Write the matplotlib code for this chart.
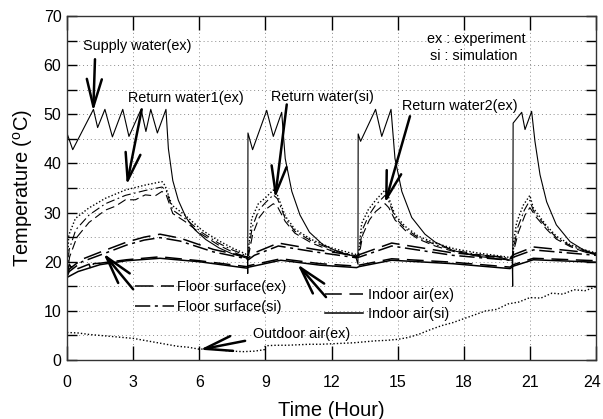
import matplotlib
matplotlib.use("Agg")
import matplotlib.pyplot as plt
import matplotlib.transforms as mtransforms

plt.rcParams['font.family'] = ['Liberation Sans', 'DejaVu Sans']
plt.rcParams['mathtext.fontset'] = 'custom'
plt.rcParams['mathtext.rm'] = 'Liberation Sans'

# ---------------- data ----------------
supply_t = [0.0, 0.01, 0.26, 1.20, 1.39, 1.72, 2.06, 2.53, 2.81, 3.36, 3.58, 3.80, 4.10, 4.49,
            4.60, 4.80, 5.05, 5.40, 5.80, 6.30, 6.90, 7.50, 8.10, 8.19, 8.20, 8.21, 8.42, 9.06,
            9.36, 9.74, 9.90, 10.20, 10.57, 11.00, 11.60, 12.30, 13.10, 13.20, 13.21, 13.32,
            14.00, 14.28, 14.70, 14.88, 15.19, 15.64, 16.24, 16.70, 17.50, 18.50, 19.50, 20.20,
            20.22, 20.24, 20.63, 20.78, 21.08, 21.23, 21.46, 21.76, 22.20, 22.82, 23.40, 24.00]
supply_v = [17.5, 46.0, 42.8, 51.0, 47.3, 51.0, 45.4, 51.0, 45.5, 51.0, 46.5, 51.0, 46.2, 51.0,
            43.0, 36.5, 32.5, 29.0, 26.5, 24.5, 22.8, 21.6, 20.8, 20.6, 17.6, 46.2, 42.8, 50.8,
            45.5, 50.4, 41.0, 34.3, 29.5, 26.0, 23.5, 22.0, 21.0, 19.5, 46.0, 44.5,
            51.0, 45.5, 51.0, 41.0, 34.3, 29.0, 25.6, 24.0, 22.3, 21.2, 20.6, 20.3,
            15.0, 48.2, 50.4, 46.9, 50.6, 44.5, 37.7, 32.2, 27.5, 24.1, 22.5, 21.5]

ret1_t = [0.0, 0.08, 0.38, 0.98, 1.74, 2.65, 3.55, 4.31, 4.45, 4.76, 5.35, 6.10, 6.87, 7.50,
          8.10, 8.20, 8.23, 8.38, 8.68, 9.00, 9.36, 9.55, 9.90, 10.34, 11.10, 12.00, 13.10,
          13.22, 13.37, 13.67, 14.00, 14.43, 14.60, 14.88, 15.34, 15.94, 16.70, 17.60, 18.60,
          19.60, 20.20, 20.25, 20.40, 20.70, 21.00, 21.15, 21.30, 21.76, 22.20, 22.82, 23.40, 24.00]
ret1_v = [18.0, 25.4, 28.8, 30.9, 32.9, 34.6, 35.6, 36.3, 35.5, 31.5, 29.5, 26.5, 24.3, 22.8,
          21.6, 20.5, 22.5, 28.8, 31.8, 33.0, 34.6, 33.5, 29.3, 26.6, 24.5, 22.8, 21.5,
          21.6, 27.8, 30.6, 32.5, 34.6, 33.0, 29.5, 27.2, 25.2, 23.8, 22.6, 21.8,
          21.2, 20.8, 23.8, 28.0, 31.5, 33.5, 31.0, 30.0, 27.3, 25.2, 23.5, 22.5, 21.8]

retsi_t = [0.0, 0.10, 0.40, 1.00, 1.74, 2.65, 3.55, 4.31, 4.50, 4.80, 5.35, 6.10, 6.87, 7.50,
           8.10, 8.22, 8.40, 8.70, 9.00, 9.36, 9.55, 9.90, 10.34, 11.10, 12.00, 13.10,
           13.24, 13.40, 13.70, 14.00, 14.43, 14.60, 14.88, 15.34, 15.94, 16.70, 17.60, 18.60,
           19.60, 20.20, 20.27, 20.45, 20.75, 21.00, 21.15, 21.30, 21.76, 22.20, 22.82, 23.40, 24.00]
retsi_v = [17.5, 22.5, 26.5, 29.5, 31.8, 33.5, 34.5, 35.2, 34.5, 30.5, 28.8, 26.0, 23.8, 22.4,
           21.3, 21.5, 27.0, 30.5, 32.0, 33.6, 32.8, 28.8, 26.2, 24.2, 22.5, 21.2,
           21.5, 26.5, 29.5, 31.5, 33.5, 32.3, 29.0, 26.8, 24.9, 23.5, 22.3, 21.5,
           21.0, 20.6, 23.0, 27.0, 30.5, 32.5, 30.5, 29.5, 27.0, 24.9, 23.3, 22.3, 21.6]

ret2_t = [0.0, 0.12, 0.45, 1.00, 1.74, 2.20, 2.65, 3.10, 3.55, 4.00, 4.31, 4.50, 4.80, 5.35,
          6.10, 6.87, 7.50, 8.10, 8.24, 8.42, 8.72, 9.00, 9.36, 9.55, 9.90, 10.34, 11.10,
          12.00, 13.10, 13.25, 13.42, 13.72, 14.00, 14.43, 14.60, 14.88, 15.34, 15.94, 16.70,
          17.60, 18.60, 19.60, 20.20, 20.28, 20.48, 20.78, 21.00, 21.15, 21.30, 21.76, 22.20,
          22.82, 23.40, 24.00]
ret2_v = [17.2, 21.0, 25.0, 28.0, 30.5, 31.3, 32.6, 32.6, 33.6, 33.4, 34.3, 33.6, 29.8, 28.2,
          25.6, 23.4, 22.0, 21.0, 21.3, 25.5, 29.0, 30.6, 31.8, 31.2, 28.2, 25.8, 23.8,
          22.2, 21.0, 21.2, 25.5, 28.5, 30.2, 31.8, 31.0, 28.5, 26.4, 24.6, 23.2,
          22.0, 21.3, 20.8, 20.4, 22.5, 26.0, 29.5, 31.0, 30.0, 29.0, 26.6, 24.6,
          23.1, 22.1, 21.4]

floor_ex_t = [0.0, 0.10, 0.68, 1.65, 2.71, 3.50, 4.22, 5.13, 6.64, 8.15, 8.23, 8.50, 9.59,
              11.25, 13.14, 13.30, 14.73, 17.50, 20.10, 20.30, 21.16, 24.00]
floor_ex_v = [17.0, 18.5, 20.5, 22.2, 24.0, 25.0, 25.6, 24.8, 22.5, 21.0, 20.8, 21.8, 23.8,
              22.5, 21.2, 21.5, 23.8, 21.8, 20.8, 21.5, 23.0, 21.7]

floor_si_t = [0.0, 0.10, 0.68, 1.65, 2.71, 3.50, 4.22, 5.13, 6.64, 8.15, 8.23, 8.50, 9.59,
              11.25, 13.14, 13.30, 14.73, 17.50, 20.10, 20.30, 21.16, 24.00]
floor_si_v = [17.0, 18.0, 20.0, 21.6, 23.4, 24.4, 24.9, 24.2, 22.0, 20.6, 20.4, 21.3, 23.2,
              22.0, 20.8, 21.0, 23.2, 21.3, 20.3, 21.0, 22.4, 21.3]

indoor_ex_t = [0.0, 0.10, 0.20, 0.30, 0.50, 1.00, 1.10, 1.20, 1.50, 2.70, 4.22, 6.00, 8.15,
               8.25, 9.70, 11.48, 13.14, 13.25, 14.73, 17.50, 20.10, 20.25, 21.16, 24.00]
indoor_ex_v = [17.2, 19.5, 18.8, 19.4, 18.6, 19.5, 18.3, 19.6, 19.7, 20.4, 21.0, 20.2, 19.0,
               19.2, 20.6, 19.6, 19.1, 19.3, 20.6, 19.9, 18.9, 19.4, 20.7, 20.2]

indoor_si_t = [0.0, 0.50, 1.50, 2.70, 4.22, 6.00, 8.15, 8.25, 9.70, 11.48, 13.14, 13.25,
               14.73, 17.50, 20.10, 20.25, 21.16, 24.00]
indoor_si_v = [16.8, 18.0, 19.4, 20.2, 20.7, 20.0, 18.7, 18.9, 20.3, 19.3, 18.8, 19.0,
               20.3, 19.6, 18.6, 19.1, 20.4, 19.9]

outdoor_t = [0.0, 0.5, 1.0, 1.5, 2.0, 2.5, 3.0, 3.5, 4.0, 4.5, 5.0, 5.5, 6.0, 6.5, 7.0, 7.5,
             8.0, 8.5, 8.95, 9.0, 9.5, 10.0, 10.5, 11.0, 11.5, 12.0, 12.5, 13.0, 13.5, 14.0,
             14.5, 15.0, 15.5, 16.0, 16.5, 17.0, 17.5, 18.0, 18.5, 19.0, 19.5, 20.0, 20.5,
             21.0, 21.5, 22.0, 22.5, 23.0, 23.5, 24.0]
outdoor_v = [5.6, 5.5, 5.2, 5.0, 4.8, 4.6, 4.4, 4.0, 3.6, 3.2, 2.8, 2.6, 2.2, 2.3, 2.0, 1.8,
             1.7, 1.8, 2.1, 2.9, 3.0, 3.0, 3.1, 3.2, 3.2, 3.3, 3.4, 3.5, 3.7, 3.9,
             4.0, 4.2, 4.6, 5.3, 6.2, 7.0, 7.6, 8.4, 9.2, 10.0, 10.3, 11.4, 11.8,
             12.7, 12.6, 13.6, 13.4, 14.3, 14.1, 14.9]

x_ticks = [0, 3, 6, 9, 12, 15, 18, 21, 24]
y_ticks = [0, 5, 10, 15, 20, 25, 30, 35, 40, 45, 50, 55, 60, 65, 70]

# ---------------- figure ----------------
W, H = 603, 419
fig = plt.figure(figsize=(W / 100, H / 100), dpi=100)
L, R, T, B = 67, 596, 16, 360
ax = fig.add_axes([L / W, 1 - B / H, (R - L) / W, (B - T) / H])

k = 'black'
lw = 0.8
ax.plot(supply_t, supply_v, color=k, lw=lw, ls='-')
ax.plot(ret1_t, ret1_v, color=k, lw=1.0, ls=(0, (1, 1.5)))
ax.plot(retsi_t, retsi_v, color=k, lw=lw, ls=(0, (8, 3, 1.5, 3)))
ax.plot(ret2_t, ret2_v, color=k, lw=lw, ls=(0, (8, 4)))
l_fex, = ax.plot(floor_ex_t, floor_ex_v, color=k, lw=1.1, ls=(0, (12, 5)),
                 label='Floor surface(ex)')
l_fsi, = ax.plot(floor_si_t, floor_si_v, color=k, lw=1.1, ls=(0, (10, 3, 2, 3)),
                 label='Floor surface(si)')
l_iex, = ax.plot(indoor_ex_t, indoor_ex_v, color=k, lw=1.1, ls=(0, (11, 5)),
                 label='Indoor air(ex)')
l_isi, = ax.plot(indoor_si_t, indoor_si_v, color=k, lw=1.1, ls='-',
                 label='Indoor air(si)')
ax.plot(outdoor_t, outdoor_v, color=k, lw=1.0, ls=(0, (1, 1.5)))

ax.set_xlim(0, 24)
ax.set_ylim(0, 70)
ax.set_xticks(x_ticks)
ax.set_yticks(y_ticks)
ax.set_yticklabels([str(v) if v % 10 == 0 else '' for v in y_ticks])
ax.tick_params(axis='x', direction='in', length=10, width=1.0, top=True, labelsize=11.5, pad=11)
ax.tick_params(axis='y', direction='in', length=7, width=1.0, right=True, labelsize=11.5, pad=4)
ax.grid(True, color='0.55', ls=(0, (1, 3)), lw=0.7)
for s in ax.spines.values():
    s.set_linewidth(1.0)
    s.set_color('0.2')

# keep the last x tick label inside the canvas
last = ax.get_xticklabels()[-1]
last.set_transform(last.get_transform() +
                   mtransforms.ScaledTranslation(-4 / 100, 0, fig.dpi_scale_trans))

ax.set_xlabel('Time (Hour)', fontsize=14.5, labelpad=8)
ax.set_ylabel(r'Temperature ($^{\rm o}$C)', fontsize=14.5, labelpad=6)

fs = 10.4
arw = dict(arrowstyle='->, head_length=1.1, head_width=0.3', lw=1.8, color=k,
           mutation_scale=18, shrinkA=0, shrinkB=0)

ax.text(0.72, 63.9, 'Supply water(ex)', fontsize=fs, va='center', ha='left')
ax.annotate('', xy=(1.19, 50.6), xytext=(1.27, 61.2), arrowprops=arw)

ax.text(2.78, 53.3, 'Return water1(ex)', fontsize=fs, va='center', ha='left')
ax.annotate('', xy=(2.71, 35.6), xytext=(3.39, 51.0), arrowprops=arw)

ax.text(9.24, 53.5, 'Return water(si)', fontsize=fs, va='center', ha='left')
ax.annotate('', xy=(9.44, 32.9), xytext=(9.97, 52.0), arrowprops=arw)

ax.text(15.18, 51.6, 'Return water2(ex)', fontsize=fs, va='center', ha='left')
ax.annotate('', xy=(14.43, 31.9), xytext=(15.56, 49.6), arrowprops=arw)

ax.text(16.35, 65.4, 'ex : experiment', fontsize=fs, va='center', ha='left')
ax.text(16.45, 61.8, 'si : simulation', fontsize=fs, va='center', ha='left')

ax.annotate('', xy=(1.65, 21.7), xytext=(3.0, 14.4), arrowprops=arw)
ax.annotate('', xy=(10.45, 19.5), xytext=(11.75, 12.8), arrowprops=arw)

ax.text(8.42, 5.2, 'Outdoor air(ex)', fontsize=fs, va='center', ha='left')
ax.annotate('', xy=(6.03, 2.1), xytext=(8.08, 3.9), arrowprops=arw)

leg1 = ax.legend(handles=[l_fex, l_fsi], loc='upper left',
                 bbox_to_anchor=((135 - L) / (R - L), (B - 280) / (B - T)),
                 frameon=False, fontsize=fs, handlelength=2.7, handletextpad=0.2,
                 labelspacing=0.45, borderpad=0, borderaxespad=0)
ax.add_artist(leg1)
ax.legend(handles=[l_iex, l_isi], loc='upper left',
          bbox_to_anchor=((325 - L) / (R - L), (B - 288) / (B - T)),
          frameon=False, fontsize=fs, handlelength=2.6, handletextpad=0.4,
          labelspacing=0.38, borderpad=0, borderaxespad=0)

fig.savefig('out.png', dpi=100)
